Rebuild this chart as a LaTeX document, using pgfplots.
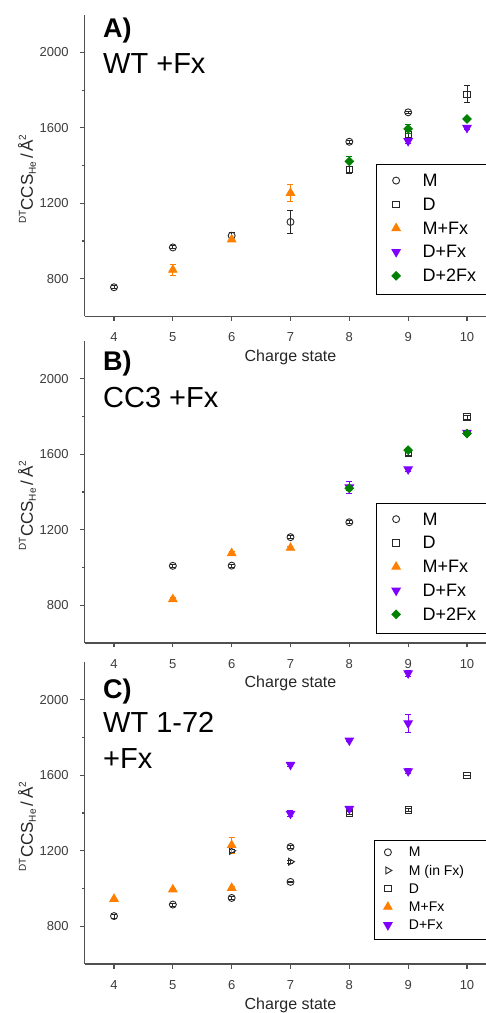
\documentclass[border=0pt]{standalone}
\usepackage{fontspec}
\setmainfont{Liberation Sans}
\usepackage{pgfplots}
\pgfplotsset{compat=1.18}
\definecolor{fxorange}{RGB}{255,128,0}
\definecolor{fxviolet}{RGB}{127,0,255}
\definecolor{fxgreen}{RGB}{0,128,0}
\definecolor{axgray}{RGB}{80,80,80}
\definecolor{tkgray}{RGB}{60,60,60}
\definecolor{mkgray}{RGB}{40,40,40}
\def\limgL{6pt}\def\limgR{24pt}\def\limgY{1.5pt}
\newcommand\smallsup[1]{\raisebox{7pt}{\fontsize{10}{10}\selectfont #1}}
\newcommand\smallsub[1]{\raisebox{-3pt}{\fontsize{10}{10}\selectfont #1}}
\pgfplotsset{
 limg/.style={legend image code/.code={\path (-\limgL,0pt) (\limgR,0pt); \draw[##1] plot coordinates {(0pt,\limgY)};}},
 ebar/.style={/pgfplots/error bars/y dir=both, /pgfplots/error bars/y explicit,
   /pgfplots/error bars/error bar style={line width=0.9pt},
   /pgfplots/error bars/error mark options={rotate=90, mark size=3pt, line width=0.9pt}},
 Mst/.style={only marks, color=mkgray, mark=o, mark size=3.5pt, line width=0.9pt, ebar, limg},
 MinFx/.style={only marks, color=mkgray, mark=triangle, mark size=4pt, mark options={rotate=-90}, line width=0.9pt, ebar, limg},
 Dst/.style={only marks, color=mkgray, mark=square, mark size=3.2pt, line width=0.9pt, ebar, limg},
 MFx/.style={only marks, color=fxorange, mark=triangle*, mark size=4.8pt, line width=0.9pt, ebar, limg},
 DFx/.style={only marks, color=fxviolet, mark=triangle*, mark size=4.8pt, mark options={rotate=180}, line width=0.9pt, ebar, limg},
 D2Fx/.style={only marks, color=fxgreen, mark=square*, mark size=3pt, mark options={rotate=45}, line width=0.9pt, ebar, limg},
 panel/.style={
  scale only axis, width=411.8pt, height=301.9pt,
  xmin=3.5, xmax=10.5, ymin=600, ymax=2200,
  axis x line*=bottom, axis y line*=left,
  axis line style={line width=1.2pt, draw=axgray},
  xtick={4,5,6,7,8,9,10}, ytick={800,1200,1600,2000}, minor ytick={1000,1400,1800},
  tick align=outside, major tick length=4.5pt, minor tick length=3pt,
  tick style={line width=1.1pt, draw=axgray},
  /pgf/number format/assume math mode=true,
  /pgf/number format/1000 sep={},
  ticklabel style={font=\fontsize{13}{13}\selectfont, text=tkgray},
  xticklabel style={anchor=north, inner sep=0pt, yshift=-11.5pt},
  yticklabel style={anchor=east, inner sep=0pt, xshift=-11.3pt},
  xlabel={Charge state},
  xlabel style={at={(axis description cs:0.5,0)}, anchor=base, yshift=-45pt, font=\fontsize{16}{16}\selectfont, text=black!85},
  ylabel={\smallsup{DT}CCS\smallsub{He}\,/\,Å\smallsup{2}},
  ylabel style={at={(axis description cs:-0.14,0.455)}, anchor=center, font=\fontsize{17}{17}\selectfont, text=black!85},
  legend cell align=left,
 },
 bigleg/.style={legend style={anchor=north west, draw=black, line width=1.3pt, fill=white,
   inner xsep=13.3pt, inner ysep=5.5pt, font=\fontsize{18}{18}\selectfont,
   nodes={inner xsep=2pt, inner ysep=3.4pt, text height=13pt, text depth=4pt}, row sep=0pt}},
 smallleg/.style={legend style={anchor=north west, draw=black, line width=1.3pt, fill=white,
   inner xsep=7pt, inner ysep=3.8pt, font=\fontsize{14}{14}\selectfont,
   nodes={inner xsep=2pt, inner ysep=2.6pt, text height=10pt, text depth=3pt}, row sep=0pt}},
}
\begin{document}
\begin{tikzpicture}
\path[use as bounding box] (0pt,0pt) rectangle (486pt,1013pt);
\clip (0pt,0pt) rectangle (486pt,1013pt);

% ---------------- Panel A ----------------
\begin{axis}[panel, bigleg, at={(84.6pt,696.5pt)}, anchor=south west,
  legend style={at={(0.707,0.505)}}]
\addplot[Mst] coordinates {(4,755) +- (0,8) (5,966) +- (0,8) (6,1028) +- (0,18) (7,1101) +- (0,62) (8,1526) +- (0,8) (9,1682) +- (0,6)};
\addlegendentry{M}
\addplot[Dst] coordinates {(8,1378) +- (0,18) (9,1565) +- (0,35) (10,1777) +- (0,45)};
\addlegendentry{D}
\addplot[MFx] coordinates {(5,847) +- (0,28) (6,1008) +- (0,12) (7,1255) +- (0,47)};
\addlegendentry{M+Fx}
\addplot[DFx] coordinates {(9,1530) +- (0,12) (10,1600) +- (0,8)};
\addlegendentry{D+Fx}
\addplot[D2Fx] coordinates {(8,1422) +- (0,25) (9,1594) +- (0,25) (10,1647) +- (0,8)};
\addlegendentry{D+2Fx}
\end{axis}

% ---------------- Panel B ----------------
\begin{axis}[panel, bigleg, at={(84.6pt,370pt)}, anchor=south west,
  legend style={at={(0.707,0.465)}}]
\addplot[Mst] coordinates {(5,1009) +- (0,8) (6,1010) +- (0,8) (7,1161) +- (0,8) (8,1240) +- (0,8)};
\addlegendentry{M}
\addplot[Dst] coordinates {(9,1606) +- (0,10) (10,1797) +- (0,10)};
\addlegendentry{D}
\addplot[MFx] coordinates {(5,832) +- (0,8) (6,1076) +- (0,8) (7,1104) +- (0,8)};
\addlegendentry{M+Fx}
\addplot[DFx] coordinates {(8,1425) +- (0,30) (9,1521) +- (0,10) (10,1715) +- (0,5)};
\addlegendentry{D+Fx}
\addplot[D2Fx] coordinates {(8,1420) +- (0,12) (9,1622) +- (0,10) (10,1710) +- (0,8)};
\addlegendentry{D+2Fx}
\end{axis}

% ---------------- Panel C ----------------
\def\limgL{5.7pt}\def\limgR{18.6pt}\def\limgY{1.2pt}
\begin{axis}[panel, smallleg, at={(84.6pt,49pt)}, anchor=south west,
  legend style={at={(0.703,0.411)}}]
\addplot[Mst] coordinates {(4,854) +- (0,10) (5,915) +- (0,8) (6,950) +- (0,8) (7,1220) +- (0,10) (7,1035) +- (0,5)};
\addlegendentry{M}
\addplot[MinFx] coordinates {(6,1200) +- (0,8) (7,1142) +- (0,8)};
\addlegendentry{M (in Fx)\hspace*{40pt}}
\addplot[Dst] coordinates {(8,1400) +- (0,8) (9,1416) +- (0,8) (10,1598) +- (0,0)};
\addlegendentry{D}
\addplot[MFx] coordinates {(4,945) +- (0,5) (5,995) +- (0,8) (6,1003) +- (0,10) (6,1230) +- (0,42)};
\addlegendentry{M+Fx}
\addplot[DFx] coordinates {(7,1656) +- (0,10) (7,1397) +- (0,15) (8,1785) +- (0,8) (8,1423) +- (0,10) (9,2141) +- (0,15) (9,1876) +- (0,48) (9,1622) +- (0,12)};
\addlegendentry{D+Fx}
\end{axis}

% ---------------- Panel titles ----------------
\node[anchor=base west, inner sep=0pt, font=\fontsize{27}{27}\selectfont\bfseries] at (103pt,975pt) {A)};
\node[anchor=base west, inner sep=0pt, font=\fontsize{29}{29}\selectfont] at (103pt,939pt) {WT +Fx};
\node[anchor=base west, inner sep=0pt, font=\fontsize{27}{27}\selectfont\bfseries] at (103pt,642pt) {B)};
\node[anchor=base west, inner sep=0pt, font=\fontsize{29}{29}\selectfont] at (103pt,605.7pt) {CC3 +Fx};
\node[anchor=base west, inner sep=0pt, font=\fontsize{27}{27}\selectfont\bfseries] at (103pt,314.7pt) {C)};
\node[anchor=base west, inner sep=0pt, font=\fontsize{29}{29}\selectfont] at (103pt,280.3pt) {WT 1-72};
\node[anchor=base west, inner sep=0pt, font=\fontsize{29}{29}\selectfont] at (103pt,244.3pt) {+Fx};
\end{tikzpicture}
\end{document}
